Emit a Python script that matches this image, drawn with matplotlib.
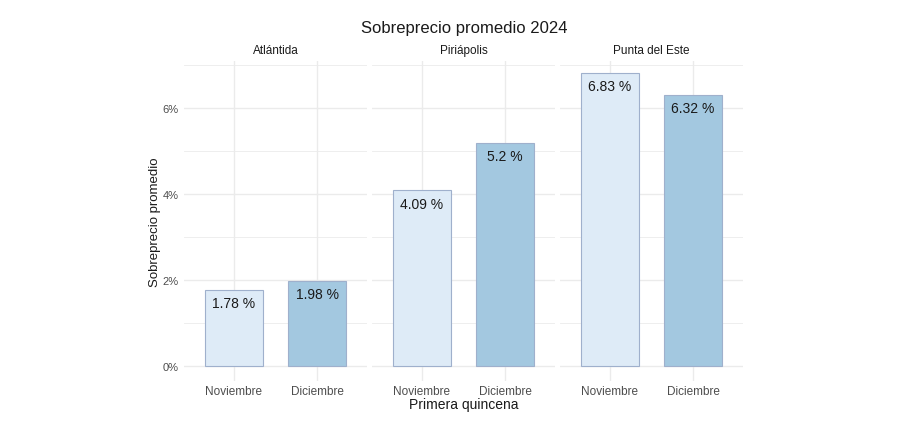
import matplotlib.pyplot as plt
from matplotlib.ticker import MultipleLocator, FuncFormatter

plt.rcParams['font.family'] = ['Liberation Sans', 'DejaVu Sans']

# data
places = ['Atlántida', 'Piriápolis', 'Punta del Este']
months = ['Noviembre', 'Diciembre']
noviembre = [1.78, 4.09, 6.83]
diciembre = [1.98, 5.2, 6.32]
bar_colors = ['#deebf7', '#a3c8e0']

W, H = 917, 435
fig = plt.figure(figsize=(W / 100, H / 100), dpi=100)
fig.patch.set_facecolor('white')

grid_col = '#ebebeb'
panel_left = [184, 372, 560]
panel_w = 183
top, bottom = 62, 382

for i, place in enumerate(places):
    ax = fig.add_axes([panel_left[i] / W, 1 - bottom / H, panel_w / W, (bottom - top) / H])
    vals = [noviembre[i], diciembre[i]]
    xs = [1, 2]
    ax.bar(xs, vals, width=0.69, color=bar_colors, edgecolor='#9fb0cc', linewidth=0.8, zorder=3)
    for x, v in zip(xs, vals):
        txt = ('%.2f' % v).rstrip('0').rstrip('.') + ' %'
        ax.text(x, v - 0.15, txt, ha='center', va='top', fontsize=10, color='#1a1a1a', zorder=4)
    ax.set_xlim(0.4, 2.6)
    ax.set_ylim(-0.35, 7.1)
    ax.yaxis.set_major_locator(MultipleLocator(2))
    ax.yaxis.set_minor_locator(MultipleLocator(1))
    ax.grid(True, which='major', color=grid_col, linewidth=1.0, zorder=0)
    ax.grid(True, which='minor', axis='y', color=grid_col, linewidth=0.6, zorder=0)
    ax.set_xticks(xs)
    ax.set_xticklabels(months, fontsize=8.5, color='#4d4d4d')
    ax.tick_params(which='both', length=0)
    ax.tick_params(axis='x', pad=3)
    ax.tick_params(axis='y', pad=4)
    for s in ax.spines.values():
        s.set_visible(False)
    if i == 0:
        ax.yaxis.set_major_formatter(FuncFormatter(lambda v, p: '%d%%' % v))
        ax.tick_params(axis='y', labelsize=8, labelcolor='#4d4d4d')
    else:
        ax.tick_params(axis='y', labelleft=False)
    ax.set_title(place, fontsize=8.5, color='#1a1a1a', pad=6)

fig.text(464 / W, 1 - 28 / H, 'Sobreprecio promedio 2024', ha='center', va='center', fontsize=12, color='#1a1a1a')
fig.text(464 / W, 1 - 405 / H, 'Primera quincena', ha='center', va='center', fontsize=10, color='#1a1a1a')
fig.text(155 / W, 1 - 222 / H, 'Sobreprecio promedio', ha='center', va='center', rotation=90, fontsize=9.5, color='#1a1a1a')

fig.savefig('out.png', dpi=100)
